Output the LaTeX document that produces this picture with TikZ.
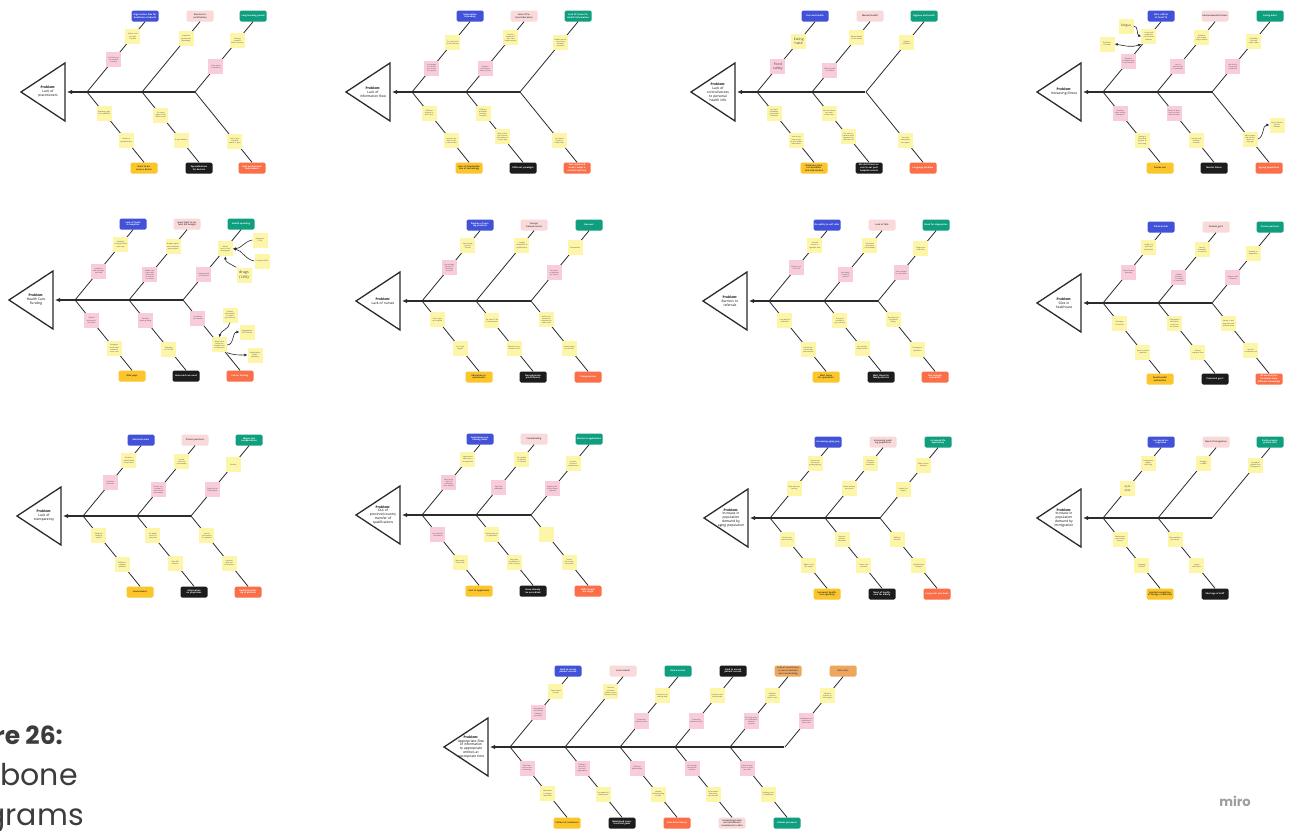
\documentclass[tikz,border=0pt]{standalone}
\usepackage{fontspec}
\setmainfont{Open Sans}
\newfontfamily\capfont{Poppins}
\usetikzlibrary{calc,arrows.meta}
\definecolor{cb}{HTML}{4151D8}
\definecolor{cpk}{HTML}{F9D9DA}
\definecolor{cg}{HTML}{0F9F7E}
\definecolor{cy}{HTML}{FCC62A}
\definecolor{ck}{HTML}{1C1C1C}
\definecolor{co}{HTML}{FA6E48}
\definecolor{ca}{HTML}{EDA65E}
\definecolor{ny}{HTML}{FDF6A8}
\definecolor{np}{HTML}{F8CCDB}
\definecolor{ln}{HTML}{2B2B2B}
\definecolor{capc}{HTML}{3C3C3C}
\tikzset{
  head/.style={rounded corners=1.5pt, minimum width=27, minimum height=11, inner sep=0.6,
    align=center, text width=25, font=\fontsize{2.2}{2.6}\selectfont\bfseries},
  hb/.style={head, fill=cb, text=white},
  hp/.style={head, fill=cpk, text=black!70},
  hg/.style={head, fill=cg, text=white},
  hy/.style={head, fill=cy, text=black!80},
  hk/.style={head, fill=ck, text=white},
  ho/.style={head, fill=co, text=white},
  ha/.style={head, fill=ca, text=black!70},
  note/.style={minimum width=15, minimum height=15, inner sep=0.8, text width=12.5,
    align=center, font=\fontsize{1.7}{2.1}\selectfont, text=black!75},
  branch/.style={draw=ln, line width=0.8},
  spine/.style={draw=ln, line width=1.3, -{Latex[length=5,width=4.5]}},
  tri/.style={draw=ln, line width=1.3, fill=white},
  prob/.style={align=center, text width=27, inner sep=0,
    font=\fontsize{3.3}{3.9}\selectfont,
    execute at begin node={\hyphenpenalty=10000\exhyphenpenalty=10000\relax}},
  arr/.style={draw=ln, line width=0.6, -{Latex[length=3,width=3]}},
  arr2/.style={draw=ln, line width=0.6, {Latex[length=3,width=3]}-{Latex[length=3,width=3]}}
}
% #1 id, #2 first junction x, #3 spine y, #4 last junction offset, #5 problem text
\newcommand\fishbase[5]{%
  \draw[tri] (#2-66,#3) -- (#2-22,#3-29) -- (#2-22,#3+29) -- cycle;
  \node[prob] (p#1) at (#2-39,#3) {#5};
  \coordinate (s#1) at (#2+#4,#3);
  \coordinate (t#1) at (#2-20,#3);
  \draw[spine] (s#1) -- (t#1);
}
% upper branch: #1 name, #2 junction x, #3 spine y, #4 heading style, #5 heading, #6 notes
\newcommand\ub[6]{%
  \coordinate (j#1) at (#2,#3);
  \node[#4] (h#1) at (#2+58,#3-76) {#5};
  \draw[branch] (j#1) -- (h#1.south);
  \foreach \pp/\cc/\xx [count=\kk] in {#6}
    {\node[note,fill=\cc] (n#1-\kk) at ($(j#1)!\pp!(h#1.south)$) {\xx};}
}
\newcommand\lb[6]{%
  \coordinate (j#1) at (#2,#3);
  \node[#4] (h#1) at (#2+57,#3+76) {#5};
  \draw[branch] (j#1) -- (h#1.north);
  \foreach \pp/\cc/\xx [count=\kk] in {#6}
    {\node[note,fill=\cc] (n#1-\kk) at ($(j#1)!\pp!(h#1.north)$) {\xx};}
}
\begin{document}
\begin{tikzpicture}[x=1pt,y=-1pt]
\fill[white] (0,0) rectangle (1290,830);
\useasboundingbox (0,0) rectangle (1290,830);

% ---------- D1 ----------
\fishbase{a}{87}{92}{108}{\textbf{Problem:}\\Lack of practitioners}
\ub{a1}{87}{92}{hb}{High tuition fees for healthcare students}{0.46/np/{Exclusivity of the medical training}, 0.79/ny/{Tuition costs are unaffordable}}
\ub{a2}{142}{92}{hp}{Barriers to certification}{0.76/ny/{Advanced professional knowledge}}
\ub{a3}{195}{92}{hg}{Long learning period}{0.36/np/{Years spent in residency}, 0.73/ny/{Training required before practice}}
\lb{a4}{87}{92}{hy}{Hard to become a doctor}{0.3/ny/{Spending years to be qualified}, 0.69/ny/{Harder to specialize later}}
\lb{a5}{142}{92}{hk}{Specializations for doctors}{0.33/ny/{Too many types of specialist exams}, 0.69/ny/{A specialization}}
\lb{a6}{195}{92}{ho}{High professional requirement}{0.7/ny/{Lots of professional exams to pass}}

% ---------- D2 ----------
\fishbase{b}{412}{92}{108}{\textbf{Problem:}\\Lack of information flow}
\ub{b1}{412}{92}{hb}{Information Unloading}{0.34/np/{No storage of information across the system}, 0.7/ny/{Too much info on the internet}}
\ub{b2}{466}{92}{hp}{Lack of Patient Education}{0.33/np/{Patients don't know where to look}, 0.77/ny/{Patients unaware of their own health records}}
\ub{b3}{520}{92}{hg}{Lack Of Access To Health Information}{0.7/ny/{Health records not shared between providers}}
\lb{b4}{412}{92}{hy}{Lack of standardization of technology}{0.3/ny/{Different systems in each clinic}, 0.69/ny/{Systems not able to talk to each other}}
\lb{b5}{466}{92}{hk}{Different paradigm}{0.3/ny/{Different standards between hospitals}, 0.64/ny/{Each profession records information in its own way}}
\lb{b6}{520}{92}{ho}{Not connected cloud / adapt a multidisciplinary}{0.69/ny/{No shared cloud for health data}}

% ---------- D3 ----------
\fishbase{c}{757}{92}{108}{\textbf{Problem:}\\Lack of control/access to personal health info}
\ub{c1}{757}{92}{hb}{Diet and health}{0.36/np/{\fontsize{3.4}{4}\selectfont Food safety}, 0.72/ny/{\fontsize{3.4}{4}\selectfont Eating habit}}
\ub{c2}{812}{92}{hp}{Mental Health}{0.31/np/{Mental health of children}, 0.77/ny/{Mental health of the elderly}}
\ub{c3}{866}{92}{hg}{Hygiene and health}{0.7/ny/{Hygiene conditions}}
\lb{c4}{757}{92}{hy}{Unknown physical examination information}{0.3/ny/{You don't remember your health condition}, 0.69/ny/{You do not have access to your health information}}
\lb{c5}{812}{92}{hk}{We don't have access to our past hospital records}{0.3/ny/{You don't know the result of the exam}, 0.64/ny/{You can't remember what happened at your last visit}}
\lb{c6}{866}{92}{ho}{Language problem}{0.69/ny/{You can't understand the report}}

% ---------- D4 ----------
\fishbase{d}{1103}{92}{109}{\textbf{Problem:}\\Increasing illness}
\ub{d1}{1103}{92}{hb}{After effects of Covid 19}{0.44/np/{Digestive problems after covid infection}, 0.79/ny/{Long covid symptoms in recovered patients}}
\ub{d2}{1157}{92}{hp}{Environmental factors}{0.36/np/{Lack of exercise due to pandemic}, 0.77/ny/{Pollution and climate change effects}}
\ub{d3}{1212}{92}{hg}{Eating habit}{0.36/np/{Fast food is cheap and convenient}, 0.72/ny/{Unhealthy diet and sugar intake}}
\lb{d4}{1103}{92}{hy}{Smoke use}{0.3/np/{Smoking rates among teenagers}, 0.69/ny/{Vaping is becoming popular in the young}}
\lb{d5}{1157}{92}{hk}{Mental illness}{0.3/np/{Stress at work and at school affects health}, 0.69/ny/{Anxiety and isolation increase}}
\lb{d6}{1212}{92}{ho}{Ageing population}{0.67/ny/{More people with chronic illness as they age}}
\node[note,fill=ny,font=\fontsize{3}{3.6}\selectfont] (fat) at (1126,26) {Fatigue};
\node[note,fill=ny] (sob) at (1107,44) {Shortness of breath};
\node[note,fill=ny] (vry) at (1277,125) {Very common chronic diseases};
\draw[arr] (fat.east) to[out=0,in=160] (nd1-2.west);
\draw[arr2] (sob.east) to[out=-10,in=200] (nd1-2.south west);
\draw[arr] (nd6-1.east) to[out=20,in=180] (vry.west);

% ---------- D5 ----------
\fishbase{e}{75}{300}{108}{\textbf{Problem:}\\Health Care Funding}
\ub{e1}{75}{300}{hb}{Lack of funds in hospitals}{0.41/np/{Unable to add new beds and staff}, 0.79/ny/{Hospitals running deficits each year}}
\ub{e2}{129}{300}{hp}{Great fight to defend the budget}{0.36/np/{Health competes with other public services for funds}, 0.76/ny/{Budget negotiations between governments}}
\ub{e3}{183}{300}{hg}{Health spending}{0.36/np/{Inappropriate or excessive}, 0.73/ny/{Where most of the money goes}}
\lb{e4}{75}{300}{hy}{Who pays}{0.29/np/{Federal and provincial share}, 0.69/ny/{Taxpayers and private insurance cover costs}}
\lb{e5}{129}{300}{hk}{How much we need}{0.29/np/{Demand keeps growing}, 0.7/ny/{Estimates of 12\% GDP}}
\lb{e6}{183}{300}{ho}{Future funding}{0.26/np/{Increasing tax revenue}, 0.64/ny/{Need more money for hospital care in the future}}
\node[note,fill=ny] (phy) at (260,240) {physicians (13\%)};
\node[note,fill=ny] (hos) at (262,261) {hospitals (29\%)};
\node[note,fill=ny,font=\fontsize{3.6}{4.2}\selectfont] (drg) at (244,275) {drugs (14\%)};
\node[note,fill=ny] (fnd) at (230,315) {Finding alternatives to health care delivery};
\node[note,fill=ny] (gst) at (247,332) {Changing the GST formula};
\node[note,fill=ny] (rea) at (255,355) {Reallocating public spending};
\draw[arr] (phy.west) to[out=190,in=0] (ne3-2.east);
\draw[arr] (hos.west) to[out=170,in=-10] (ne3-2.east);
\draw[arr] (drg.north west) to[out=150,in=-90] (ne3-2.south);
\draw[arr] (fnd.south) to[out=-100,in=80] (ne6-2.north);
\draw[arr] (ne6-2.east) to[out=0,in=180] (gst.west);
\draw[arr] (ne6-2.south east) to[out=-20,in=180] (rea.west);

% ---------- D6 ----------
\fishbase{f}{422}{301}{109}{\textbf{Problem:}\\Lack of nurses}
\ub{f1}{422}{301}{hb}{Pipeline of nursing students}{0.47/np/{Not enough interest in becoming a nurse}, 0.79/ny/{Not enough spots in schools}}
\ub{f2}{476}{301}{hp}{Foreign trained nurses}{0.79/ny/{Lengthy recognition of qualifications}}
\ub{f3}{531}{301}{hg}{Burnout}{0.4/np/{No focus on wellness for nurses}, 0.76/ny/{Overworked}}
\lb{f4}{422}{301}{hy}{Education requirements}{0.27/ny/{Time to get up to speed}, 0.67/ny/{3 or 4 year degree}}
\lb{f5}{476}{301}{hk}{Non-physician practitioners}{0.28/ny/{Pay rates of RN vs practitioners}, 0.67/ny/{Barriers to enrollment in NP}}
\lb{f6}{531}{301}{ho}{Compensation}{0.27/ny/{Unfair compensation compared to other work}, 0.67/ny/{Hourly wages are too low}}

% ---------- D7 ----------
\fishbase{g}{769}{301}{109}{\textbf{Problem:}\\Barriers to referrals}
\ub{g1}{769}{301}{hb}{No ability to self refer}{0.47/np/{Need to see a GP first}, 0.79/ny/{Limited access to specialist care}}
\ub{g2}{824}{301}{hp}{Lack of Info}{0.37/np/{Not aware of what is covered}, 0.79/ny/{Info about specialists not available}}
\ub{g3}{878}{301}{hg}{Need for diagnostics}{0.4/np/{Tests needed for specialists}, 0.74/ny/{Diagnostics wait time}}
\lb{g4}{769}{301}{hy}{Wait times for specialists}{0.28/ny/{Long wait for specialists}, 0.69/ny/{Not all specialists take new referrals}}
\lb{g5}{824}{301}{hk}{Wait times for family doctors}{0.28/ny/{Not good enough to get a referral}, 0.67/ny/{Not enough family doctors}}
\lb{g6}{878}{301}{ho}{Not enough specialists}{0.27/ny/{Specialists being trained slowly}, 0.69/ny/{Shortage of specialists}}

% ---------- D8 ----------
\fishbase{h}{1103}{303}{109}{\textbf{Problem:}\\Silos in healthcare}
\ub{h1}{1103}{303}{hb}{Political side}{0.44/np/{Lack of future planning}, 0.79/ny/{Health is a provincial jurisdiction}}
\ub{h2}{1158}{303}{hp}{Federal gov't}{0.36/np/{Federal transfers not linked to outcomes}, 0.76/ny/{Lack of standards on services}}
\ub{h3}{1212}{303}{hg}{Private partners}{0.36/np/{Support staff contracts}, 0.71/ny/{Security of diagnostics}}
\lb{h4}{1103}{303}{hy}{Rural health authorities}{0.29/ny/{Shortages of services}, 0.7/ny/{Rural vs urban medicine}}
\lb{h5}{1158}{303}{hk}{Provincial gov't}{0.29/ny/{Competition with other provinces for doctors}, 0.7/ny/{Diverse taxpayer base}}
\lb{h6}{1212}{303}{ho}{All medical professionals have different knowledge}{0.29/ny/{Variety of professionals and different roles}, 0.68/ny/{Hard to coordinate care}}

% ---------- D9 ----------
\fishbase{i}{83}{516}{108}{\textbf{Problem:}\\Lack of transparency}
\ub{i1}{83}{516}{hb}{Administrators}{0.47/np/{Secretive practices}, 0.79/ny/{Decisions made behind closed doors}}
\ub{i2}{137}{516}{hp}{Private partners}{0.37/np/{Private contracting of services and information}, 0.77/ny/{Private firms not accountable}}
\ub{i3}{191}{516}{hg}{Wages and compensation}{0.37/np/{Paying on an hourly basis}, 0.73/ny/{Doctors}}
\lb{i4}{83}{516}{hy}{Government}{0.28/ny/{Weight of taxpayer opinion}, 0.69/ny/{Difficult to navigate websites}}
\lb{i5}{137}{516}{hk}{Information on physicians}{0.28/ny/{No public record of outcomes}, 0.67/ny/{Rate MD sessions}}
\lb{i6}{191}{516}{ho}{Health monitoring of patients}{0.28/ny/{Lack of information for patients}, 0.67/ny/{Personal data and information}}

% ---------- D10 ----------
\fishbase{k}{422}{515}{109}{\textbf{Problem:}\\Out of province/country transfer of qualifications}
\ub{k1}{422}{515}{hb}{Application processing times}{0.46/np/{Slow recognition of credentials from abroad}, 0.79/ny/{Applications take long to be approved}}
\ub{k2}{476}{515}{hp}{Credentialing}{0.39/np/{May find redundant}, 0.79/ny/{Be capable of practice in Canada}}
\ub{k3}{531}{515}{hg}{Barrier to application}{0.37/np/{English proficiency exams required}, 0.73/ny/{Local experience requirement}}
\lb{k4}{422}{515}{hy}{Cost of application}{0.28/np/{Fees paid for documents}, 0.67/ny/{Many application fees}}
\lb{k5}{476}{515}{hk}{Have already be accredited}{0.28/ny/{Restricted pool of applicants}, 0.67/ny/{May have credentials in other country}}
\lb{k6}{531}{515}{ho}{IELTS results are tough}{0.28/ny/{}, 0.67/ny/{Scores don't mean many skills}}

% ---------- D11 ----------
\fishbase{l}{770}{518}{110}{\textbf{Problem:}\\Increase in population demand by aging population}
\ub{l1}{770}{518}{hb}{Increasing aging pop}{0.42/ny/{Baby boomers retiring}, 0.78/ny/{Seniors are the fastest growing group}}
\ub{l2}{825}{518}{hp}{Increasing working population}{0.42/ny/{Fewer workers per senior}, 0.78/ny/{Pressure on health workforce}}
\ub{l3}{880}{518}{hg}{Increased life expectancy}{0.4/ny/{People live longer}, 0.75/ny/{More chronic diseases}}
\lb{l4}{770}{518}{hy}{Increased healthcare spending}{0.3/ny/{Seniors use more services}, 0.68/ny/{Higher costs per capita}}
\lb{l5}{825}{518}{hk}{Need of healthcare for elderly}{0.3/ny/{Need for geriatric specialists}, 0.68/ny/{Home care demand}}
\lb{l6}{880}{518}{ho}{Long-term care beds}{0.3/ny/{Waitlists for beds}, 0.68/ny/{Hospital beds occupied}}

% ---------- D12 ----------
\fishbase{m}{1103}{518}{109}{\textbf{Problem:}\\Increase in population demand by immigration}
\ub{m1}{1103}{518}{hb}{Increased immigration}{0.42/ny/{\fontsize{2.6}{3.1}\selectfont up to 2033}, 0.78/ny/{Immigration targets are rising}}
\ub{m2}{1158}{518}{hp}{Need of integration}{0.78/ny/{Struggle to adapt}}
\ub{m3}{1212}{518}{hg}{Positive immigration (3\%)}{0.75/ny/{Population growth from immigration}}
\lb{m4}{1103}{518}{hy}{Limited recognition of foreign credentials}{0.3/ny/{Newcomers need family doctors}, 0.68/ny/{Language barriers}}
\lb{m5}{1158}{518}{hk}{Shortage of staff}{0.3/ny/{More patients per doctor}, 0.68/ny/{Longer wait times}}

% ---------- D13 ----------
\fishbase{q}{510}{747}{274}{\textbf{Problem:}\\Appropriate flow of information to appropriate entities at appropriate time}
\ub{q1}{510}{747}{hb}{Hard to access patient records}{0.49/np/{Information not shared between providers}, 0.79/ny/{Paper-based records}}
\ub{q2}{565}{747}{hp}{Lost records}{0.79/ny/{Records lost when patients move between clinics}}
\ub{q3}{620}{747}{hg}{Risk aversion}{0.37/np/{Protecting patient privacy}, 0.73/ny/{Concerns over sharing data}}
\ub{q4}{675}{747}{hk}{Hard to access patient records}{0.37/np/{Protecting patient privacy}, 0.73/ny/{Concerns over sharing data}}
\ub{q5}{730}{747}{ha}{Lack of consistency in care transition and coordinating}{0.37/np/{No single point of coordination between services}, 0.73/ny/{Different systems used in care}}
\ub{q6}{785}{747}{ha}{Data silos}{0.37/np/{Databases not connected to each other}, 0.73/ny/{Separate systems in each region}}
\lb{q7}{510}{747}{hy}{Culture of resistance}{0.3/np/{Staff resistant to new technology}, 0.66/ny/{Reluctance to change workflows}}
\lb{q8}{565}{747}{hk}{Misaligned incentives and goals}{0.3/np/{Different priorities for each organization}, 0.67/ny/{No reward for sharing data}}
\lb{q9}{620}{747}{ho}{Poor data literacy}{0.3/np/{Staff lack data training}, 0.67/ny/{Limited understanding of data}}
\lb{q10}{675}{747}{hp}{Inconsistent data and insufficient investment in data}{0.3/np/{Not enough funding for systems}, 0.67/ny/{Inconsistent data entry and formats}}
\lb{q11}{730}{747}{hg}{Patient pressures}{0.3/np/{Patients want access to their own data}, 0.67/ny/{Growing costs of healthcare}}

% ---------- caption ----------
\node[anchor=base east, inner sep=0, text=capc, font=\capfont\bfseries\fontsize{25}{25}\selectfont] (cap1) at (63,744) {Figure 26:};
\node[anchor=base east, inner sep=0, text=capc, font=\capfont\fontsize{30}{30}\selectfont] (cap2) at (78,785) {Fishbone};
\node[anchor=base east, inner sep=0, text=capc, font=\capfont\fontsize{30}{30}\selectfont] (cap3) at (84,825) {Diagrams};
\node[text=black!38, font=\capfont\bfseries\fontsize{13}{13}\selectfont] (miro) at (1235,801) {miro};
\end{tikzpicture}
\end{document}
